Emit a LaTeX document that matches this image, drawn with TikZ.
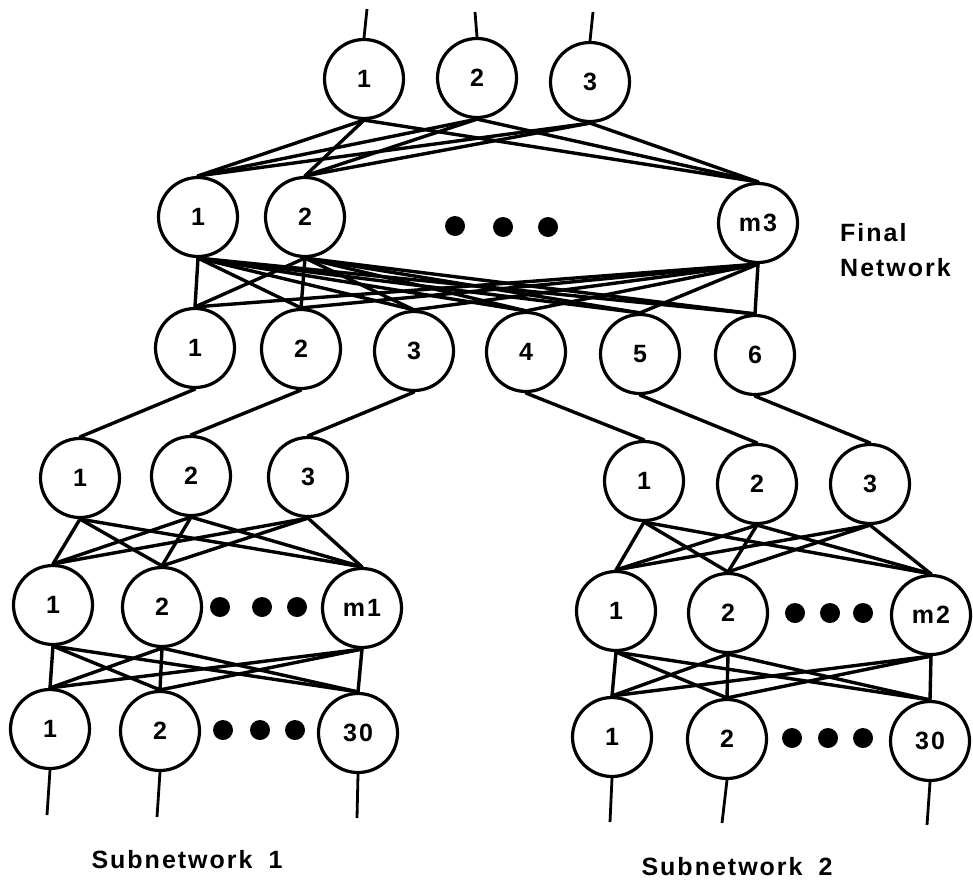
\documentclass[tikz,border=0pt]{standalone}
\usepackage{fontspec}
\setmainfont{Liberation Sans}[LetterSpace=8]
\begin{document}
\tikzset{
  unit/.style={circle, draw, line width=3.2pt, minimum size=79pt, inner sep=0pt, fill=white, font=\fontsize{25}{30}\selectfont\bfseries},
  conn/.style={line width=3.4pt, line cap=round},
  stub/.style={line width=2.8pt},
  bigdot/.style={circle, fill=black, minimum size=20pt, inner sep=0pt},
  lbl/.style={font=\fontsize{25}{35}\selectfont\bfseries, inner sep=0pt}
}
\begin{tikzpicture}[x=1pt,y=-1pt]
\useasboundingbox (0,0) rectangle (973,883);
% ---- nodes ----
% output layer
\node[unit] (T1) at (364,79) {1};
\node[unit] (T2) at (477,78) {2};
\node[unit] (T3) at (590,82) {3};
% final hidden layer
\node[unit] (H1) at (198,217) {1};
\node[unit] (H2) at (305,217) {2};
\node[unit] (H3) at (758,223) {m3};
\node[bigdot] (hd1) at (455,226) {};
\node[bigdot] (hd2) at (503,227) {};
\node[bigdot] (hd3) at (548,227) {};
% final input layer
\node[unit] (M1) at (195,348) {1};
\node[unit] (M2) at (301,349) {2};
\node[unit] (M3) at (414,351) {3};
\node[unit] (M4) at (526,352) {4};
\node[unit] (M5) at (640,354) {5};
\node[unit] (M6) at (755,355) {6};
% subnetwork 1
\node[unit] (A1) at (80,478) {1};
\node[unit] (A2) at (191,476) {2};
\node[unit] (A3) at (308,477) {3};
\node[unit] (B1) at (53,605) {1};
\node[unit] (B2) at (162,607) {2};
\node[unit] (B3) at (362,608) {m1};
\node[bigdot] (bd1) at (220,607) {};
\node[bigdot] (bd2) at (262,607) {};
\node[bigdot] (bd3) at (297,607) {};
\node[unit] (C1) at (50,729) {1};
\node[unit] (C2) at (160,731) {2};
\node[unit] (C3) at (358,733) {30};
\node[bigdot] (cd1) at (223,730) {};
\node[bigdot] (cd2) at (260,730) {};
\node[bigdot] (cd3) at (295,730) {};
% subnetwork 2
\node[unit] (D1) at (644,481) {1};
\node[unit] (D2) at (757,484) {2};
\node[unit] (D3) at (870,484) {3};
\node[unit] (E1) at (616,611) {1};
\node[unit] (E2) at (728,613) {2};
\node[unit] (E3) at (931,615) {m2};
\node[bigdot] (ed1) at (795,613) {};
\node[bigdot] (ed2) at (830,613) {};
\node[bigdot] (ed3) at (863,613) {};
\node[unit] (F1) at (612,737) {1};
\node[unit] (F2) at (727,739) {2};
\node[unit] (F3) at (930,741) {30};
\node[bigdot] (fd1) at (792,738) {};
\node[bigdot] (fd2) at (828,738) {};
\node[bigdot] (fd3) at (863,738) {};
% ---- connections ----
\foreach \a in {T1,T2,T3}{\foreach \b in {H1,H2,H3}{\draw[conn] (\a.south) -- (\b.north);}}
\foreach \a in {H1,H2,H3}{\foreach \b in {M1,M2,M3,M4,M5,M6}{\draw[conn] (\a.south) -- (\b.north);}}
\draw[conn] (M1.south) -- (A1.north);
\draw[conn] (M2.south) -- (A2.north);
\draw[conn] (M3.south) -- (A3.north);
\draw[conn] (M4.south) -- (D1.north);
\draw[conn] (M5.south) -- (D2.north);
\draw[conn] (M6.south) -- (D3.north);
\foreach \a in {A1,A2,A3}{\foreach \b in {B1,B2,B3}{\draw[conn] (\a.south) -- (\b.north);}}
\foreach \a in {B1,B2,B3}{\foreach \b in {C1,C2,C3}{\draw[conn] (\a.south) -- (\b.north);}}
\foreach \a in {D1,D2,D3}{\foreach \b in {E1,E2,E3}{\draw[conn] (\a.south) -- (\b.north);}}
\foreach \a in {E1,E2,E3}{\foreach \b in {F1,F2,F3}{\draw[conn] (\a.south) -- (\b.north);}}
% ---- stubs ----
\coordinate (t1o) at (367,9);
\coordinate (t2o) at (475,12);
\coordinate (t3o) at (593,12);
\draw[stub] (T1.north) -- (t1o);
\draw[stub] (T2.north) -- (t2o);
\draw[stub] (T3.north) -- (t3o);
\coordinate (c1i) at (47,815);
\coordinate (c2i) at (157,817);
\coordinate (c3i) at (357,818);
\draw[stub] (C1.south) -- (c1i);
\draw[stub] (C2.south) -- (c2i);
\draw[stub] (C3.south) -- (c3i);
\coordinate (f1i) at (610,822);
\coordinate (f2i) at (722,823);
\coordinate (f3i) at (927,825);
\draw[stub] (F1.south) -- (f1i);
\draw[stub] (F2.south) -- (f2i);
\draw[stub] (F3.south) -- (f3i);
% ---- labels ----
\node[lbl, align=left, anchor=west] (fin) at (840,250) {Final\\Network};
\node[lbl] (sub1) at (187,860) {Subnetwork\hspace{16pt}1};
\node[lbl] (sub2) at (737,867) {Subnetwork\hspace{16pt}2};
\end{tikzpicture}
\end{document}
